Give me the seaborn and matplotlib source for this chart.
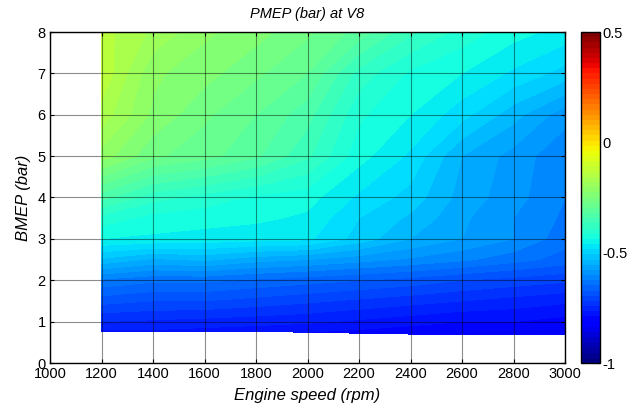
import numpy as np
import pandas as pd
import matplotlib
matplotlib.use("Agg")
import matplotlib.pyplot as plt
import seaborn as sns

# ---- data ----
speeds = [1200, 1400, 1600, 1800, 2000, 2200, 2400, 2600, 2800, 3000]
bottom_load = [0.76, 0.76, 0.76, 0.76, 0.745, 0.72, 0.70, 0.69, 0.68, 0.68]
loads = [1, 1.5, 2, 2.5, 3, 3.5, 4, 5, 6, 7, 8]
pmep_bottom = [-0.78, -0.78, -0.785, -0.79, -0.80, -0.81, -0.82, -0.83, -0.84, -0.84]
pmep_1 = [-0.75, -0.755, -0.76, -0.765, -0.77, -0.78, -0.79, -0.80, -0.80, -0.81]
pmep_15 = [-0.69, -0.70, -0.70, -0.71, -0.72, -0.73, -0.74, -0.75, -0.76, -0.77]
pmep_2 = [-0.63, -0.645, -0.645, -0.655, -0.665, -0.675, -0.685, -0.70, -0.71, -0.72]
pmep_25 = [-0.53, -0.555, -0.545, -0.565, -0.575, -0.59, -0.605, -0.62, -0.64, -0.66]
pmep_3 = [-0.45, -0.455, -0.46, -0.465, -0.47, -0.51, -0.55, -0.575, -0.60, -0.64]
pmep_35 = [-0.41, -0.435, -0.44, -0.445, -0.455, -0.50, -0.53, -0.57, -0.60, -0.63]
pmep_4 = [-0.34, -0.39, -0.41, -0.43, -0.44, -0.48, -0.51, -0.56, -0.59, -0.625]
pmep_5 = [-0.21, -0.27, -0.29, -0.32, -0.37, -0.44, -0.48, -0.55, -0.585, -0.62]
pmep_6 = [-0.16, -0.23, -0.27, -0.30, -0.34, -0.42, -0.45, -0.49, -0.54, -0.59]
pmep_7 = [-0.13, -0.22, -0.24, -0.27, -0.30, -0.385, -0.43, -0.45, -0.48, -0.51]
pmep_8 = [-0.14, -0.18, -0.22, -0.24, -0.27, -0.31, -0.37, -0.41, -0.44, -0.46]
cbar_ticks = [-1, -0.5, 0, 0.5]
cbar_labels = ["-1", "-0.5", "0", "0.5"]
x_ticks = [1000, 1200, 1400, 1600, 1800, 2000, 2200, 2400, 2600, 2800, 3000]
y_ticks = [0, 1, 2, 3, 4, 5, 6, 7, 8]

sns.set_theme(style="white")
plt.rcParams['font.family'] = ['Liberation Sans', 'DejaVu Sans']
plt.rcParams['axes.unicode_minus'] = False
plt.rcParams['text.color'] = 'black'
plt.rcParams['axes.labelcolor'] = 'black'

Z = np.array([pmep_bottom, pmep_1, pmep_15, pmep_2, pmep_25, pmep_3, pmep_35,
              pmep_4, pmep_5, pmep_6, pmep_7, pmep_8])
X = np.tile(np.array(speeds, dtype=float), (Z.shape[0], 1))
Y = np.vstack([np.array(bottom_load)] +
              [np.full(len(speeds), float(l)) for l in loads])

fig = plt.figure(figsize=(6.43, 4.11), dpi=100)
ax = fig.add_axes([50/643, 48/411, 515/643, 331/411])
cax = fig.add_axes([581/643, 48/411, 19/643, 331/411])

vmin, vmax = -1.0, 0.5
levels = np.linspace(vmin, vmax, 61)
cmap = plt.get_cmap('jet')
ax.contourf(X, Y, Z, levels=levels, cmap=cmap, vmin=vmin, vmax=vmax, zorder=1)

ax.set_xlim(1000, 3000)
ax.set_ylim(0, 8)
ax.set_xticks(x_ticks)
ax.set_yticks(y_ticks)
ax.grid(True, color='black', alpha=0.45, linewidth=0.8, linestyle='-', zorder=3)
ax.set_axisbelow(False)
ax.tick_params(direction='in', length=3, width=0.8, top=True, right=True,
               bottom=True, left=True, labelsize=10.5, colors='black', pad=3)
for s in ax.spines.values():
    s.set_color('black')
    s.set_linewidth(1.0)
    s.set_visible(True)

ax.set_xlabel('Engine speed (rpm)', fontsize=12, style='italic', labelpad=5,
              color='black')
ax.set_ylabel('BMEP (bar)', fontsize=12, style='italic', labelpad=5,
              color='black')
ax.set_title('PMEP (bar) at V8', fontsize=10.5, style='italic', pad=10,
             color='black')

sm = plt.cm.ScalarMappable(cmap=plt.get_cmap('jet', 64),
                           norm=plt.Normalize(vmin=vmin, vmax=vmax))
cb = fig.colorbar(sm, cax=cax)
cb.set_ticks(cbar_ticks)
cb.set_ticklabels(cbar_labels)
cax.tick_params(direction='in', length=3, width=0.8, left=True, right=True,
                labelsize=10.5, colors='black', pad=2)
cb.outline.set_edgecolor('black')
cb.outline.set_linewidth(1.0)

fig.savefig('out.png', dpi=100)
